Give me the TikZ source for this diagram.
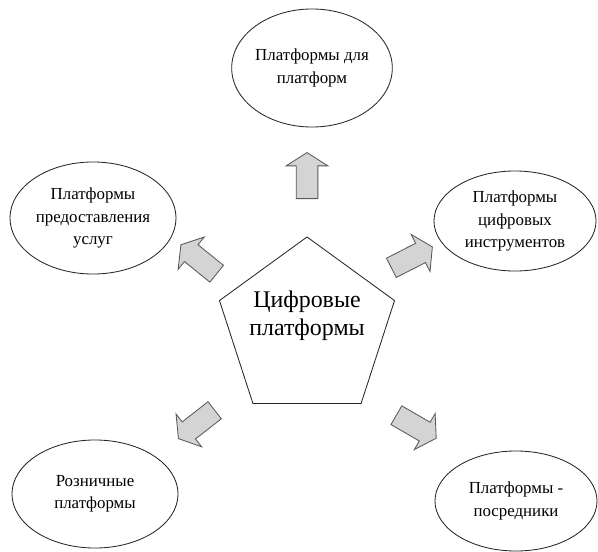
\documentclass[tikz,border=0pt]{standalone}
\usepackage{fontspec}
\setmainfont{Liberation Serif}
\usepackage{tikz}
\usetikzlibrary{shapes.geometric, shapes.arrows}
\tikzset{
    platform/.style={ellipse, draw=black!85, line width=0.6pt, inner sep=0pt,
        align=center, font=\fontsize{12}{16}\selectfont},
    blockarrow/.style={single arrow, draw=black!65, fill=black!17, line width=0.6pt,
        inner xsep=0pt, inner ysep=0.26cm, minimum height=1.15cm,
        single arrow head extend=0.25cm, single arrow tip angle=115, anchor=tail}
}

\begin{document}
\begin{tikzpicture}[x=0.025cm, y=-0.025cm]
    \useasboundingbox (0, 0) rectangle (598, 552);
    \node [regular polygon, regular polygon sides=5, draw=black!85, line width=0.6pt,
        minimum size=4.6cm, inner sep=0pt] (core) at (307, 329) {};
    \node [align=center, font=\fontsize{17}{20}\selectfont] (core text) at (307, 316) {Цифровые\\платформы};
    \node [platform, minimum width=3.45cm, minimum height=2.95cm] (top) at (312, 68) {Платформы для\\платформ};
    \node [platform, minimum width=4.15cm, minimum height=2.8cm] (left) at (93, 218) {Платформы\\предоставления\\услуг};
    \node [platform, minimum width=4.05cm, minimum height=2.5cm] (right) at (515, 221) {Платформы\\цифровых\\инструментов};
    \node [platform, minimum width=4.15cm, minimum height=2.7cm] (retail) at (95, 494) {Розничные\\платформы};
    \node [platform, minimum width=4.05cm, minimum height=2.5cm] (broker) at (516, 501) {Платформы -\\посредники};
    \foreach \arr/\tail/\ang in {up/{(307, 199)}/90, ul/{(217, 274)}/141, ur/{(391, 268)}/27,
                                  dl/{(215, 410)}/218, dr/{(396, 415)}/-30} {
        \node [blockarrow, rotate=\ang] (arrow \arr) at \tail {};
    }
\end{tikzpicture}
\end{document}
